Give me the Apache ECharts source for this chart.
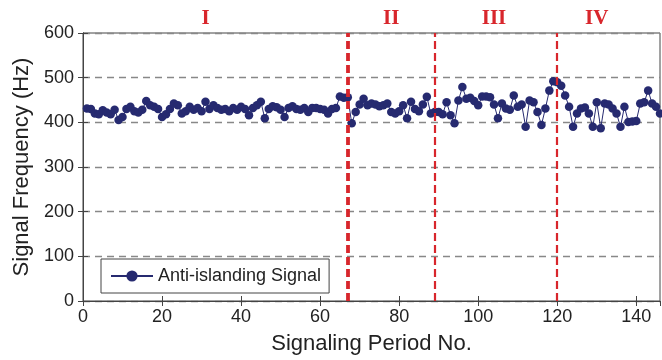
<!DOCTYPE html>
<html><head><meta charset="utf-8">
<script src="https://cdn.jsdelivr.net/npm/echarts@6/dist/echarts.min.js"></script>
<style>html,body{margin:0;padding:0;background:#fff}#c{width:662px;height:360px}</style>
</head><body><div id="c"></div>
<script>
const periods = Array.from({length:146},(_,i)=>i+1);
const signal = [
431,430,420,418,427,422,418,428,405,412,
430,435,425,422,428,448,438,435,430,412,
418,430,442,438,420,425,435,428,432,425,
446,430,438,432,428,430,425,432,428,435,
430,416,432,438,446,409,430,436,434,428,
412,432,436,430,428,432,423,432,432,430,
428,420,430,432,458,455,456,398,423,440,
453,438,442,440,436,438,442,423,420,425,
438,409,446,430,425,440,457,420,423,423,
418,445,416,398,449,479,453,455,448,438,
458,458,456,440,409,442,431,428,460,435,
440,390,449,445,423,394,431,471,492,490,
482,460,435,390,420,431,433,420,390,445,
387,442,440,431,420,390,435,401,402,403,
442,445,471,442,435,420];
const boundaries = [67, 89, 120];
const regionNames = ['I','II','III','IV'];
const regionLabelX = [31, 78, 104, 130];
const yTicks = [0,100,200,300,400,500,600];
const xTicks = [0,20,40,60,80,100,120,140];

const chart = echarts.init(document.getElementById('c'));
const navy = '#262a70';
const red = '#d8262c';
const font = 'Liberation Sans, Arial, sans-serif';
const option = {
  animation:false,
  grid:{left:83,right:2,top:33,bottom:55,show:true,borderColor:'#444',borderWidth:1},
  xAxis:[{type:'value',min:0,max:146,interval:20,
    name:'Signaling Period No.',nameLocation:'middle',nameGap:32,
    nameTextStyle:{fontFamily:font,fontSize:22,color:'#222'},
    axisLine:{show:true,lineStyle:{color:'#444'}},
    axisTick:{show:true,inside:true,length:5,lineStyle:{color:'#444'}},
    axisLabel:{fontFamily:font,fontSize:18,color:'#222',margin:7,showMaxLabel:false,
      formatter:v=>xTicks.includes(v)?String(v):''},
    splitLine:{show:false}},
   {type:'value',position:'top',min:0,max:146,interval:20,
    axisLine:{show:true,lineStyle:{color:'#444'}},
    axisTick:{show:true,inside:true,length:5,lineStyle:{color:'#444'}},
    axisLabel:{show:false},splitLine:{show:false}}],
  yAxis:[{type:'value',min:0,max:600,interval:100,
    name:'Signal Frequency (Hz)',nameLocation:'middle',nameGap:50,
    nameTextStyle:{fontFamily:font,fontSize:22,color:'#222'},
    axisLine:{show:true,lineStyle:{color:'#444'}},
    axisTick:{show:true,inside:true,length:5,lineStyle:{color:'#444'}},
    axisLabel:{fontFamily:font,fontSize:18,color:'#222',margin:9,
      formatter:v=>yTicks.includes(v)?String(v):''},
    splitLine:{show:true,lineStyle:{color:'#888',type:[7,5],width:1.3}}},
   {type:'value',position:'right',min:0,max:600,interval:100,
    axisLine:{show:true,lineStyle:{color:'#444'}},
    axisTick:{show:true,inside:true,length:5,lineStyle:{color:'#444'}},
    axisLabel:{show:false},splitLine:{show:false}}],
  legend:{left:101,top:259,orient:'vertical',
    backgroundColor:'#fff',borderColor:'#444',borderWidth:1,
    padding:[8,8,8,9],itemWidth:42,itemHeight:14,itemGap:0,
    textStyle:{fontFamily:font,fontSize:18,color:'#222'},
    data:['Anti-islanding Signal']},
  series:[{name:'Anti-islanding Signal',type:'line',
    data:periods.map((p,i)=>[p,signal[i]]),
    symbol:'circle',symbolSize:8.5,
    lineStyle:{color:navy,width:1},itemStyle:{color:navy},
    markLine:{silent:true,symbol:'none',label:{show:false},
      lineStyle:{color:red,type:[8,4],width:2.2},
      data:boundaries.map((b,i)=>({xAxis:b,lineStyle:{width:i===0?3.8:2.2}}))}
  }]
};
chart.setOption(option);
const graphics = regionNames.map((n,i)=>{
  const p = chart.convertToPixel({xAxisIndex:0,yAxisIndex:0},[regionLabelX[i],600]);
  return {type:'text',x:p[0],y:19,style:{text:n,fill:red,
    font:'bold 21px "Liberation Serif", "Times New Roman", serif',
    textAlign:'center',textVerticalAlign:'middle'}};
});
chart.setOption({graphic:graphics});
</script></body></html>
